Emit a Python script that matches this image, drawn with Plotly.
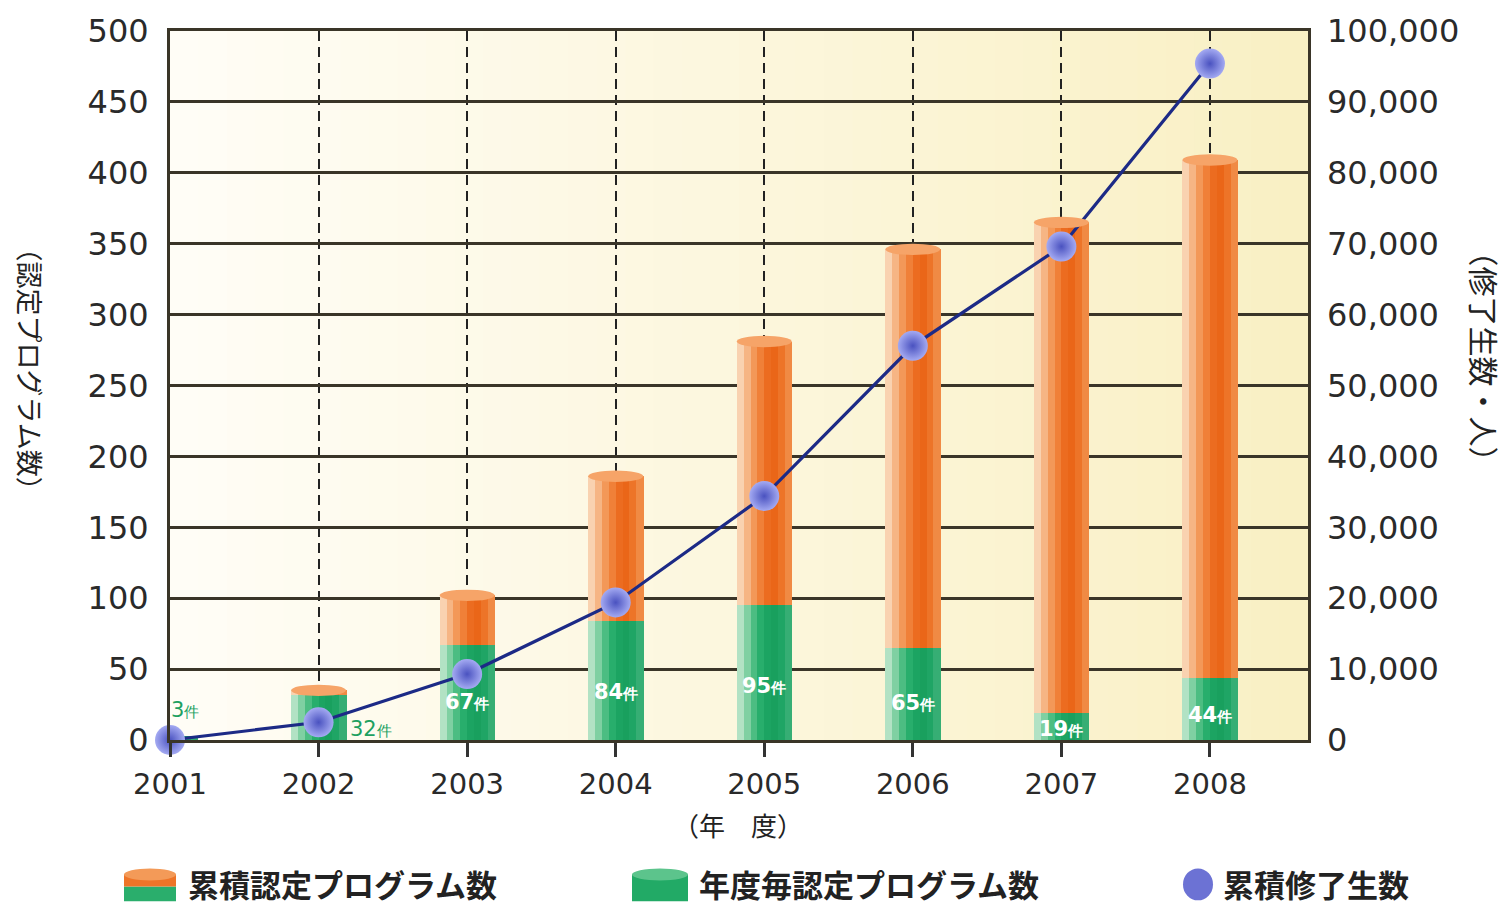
import plotly.graph_objects as go

# 年度別データ
years = [2001, 2002, 2003, 2004, 2005, 2006, 2007, 2008]
new_programs = [3, 32, 67, 84, 95, 65, 19, 44]            # 年度毎認定プログラム数
cum_programs = [3, 35, 102, 186, 281, 346, 365, 409]      # 累積認定プログラム数
cum_graduates = [0, 2500, 9300, 19400, 34400, 55600, 69600, 95400]  # 累積修了生数

series_names = ["累積認定プログラム数", "年度毎認定プログラム数", "累積修了生数"]

JP = "Noto Sans CJK JP"
NUM = "DejaVu Sans"

W, H = 1506, 905
ML, MR, MT, MB = 170, 198, 28, 165
PW, PH = W - ML - MR, H - MT - MB

# cylinder-like shading profiles (left -> right)
orange_shades = ["#f9d2b0", "#f6b584", "#f39858", "#f08038", "#ec6c20", "#ea6618", "#ed7428", "#f08a44"]
green_shades = ["#b2e2c4", "#7fd0a2", "#4cbd82", "#28ae6c", "#1ca462", "#19a05e", "#1fa565", "#36ae74"]
ORANGE_CAP = "#f6a468"
BLUE_LINE = "#1c2a86"

BAR_W = 0.37
N = len(orange_shades)
strip = BAR_W / N

fig = go.Figure()


def add_cylinder(values, shades, name):
    for i, c in enumerate(shades):
        fig.add_trace(go.Bar(
            x=years, y=values,
            width=strip * 1.08,
            offset=-BAR_W / 2 + i * strip,
            marker=dict(color=c, line=dict(width=0)),
            name=name,
            showlegend=False,
            hoverinfo="skip",
        ))


add_cylinder(cum_programs, orange_shades, series_names[0])
add_cylinder(new_programs, green_shades, series_names[1])

fig.add_trace(go.Scatter(
    x=years, y=cum_graduates, yaxis="y2",
    mode="lines+markers",
    name=series_names[2],
    showlegend=False,
    line=dict(color=BLUE_LINE, width=3.2),
    marker=dict(size=30, color="#a4aaf2",
                gradient=dict(type="radial", color="#4a52c0"),
                line=dict(width=0)),
    cliponaxis=False,
))

shapes = []

# background gradient of the plotting area
n_bg = 40
c0 = (255, 253, 246)
c1 = (249, 240, 196)
for k in range(n_bg):
    t = k / (n_bg - 1)
    col = tuple(round(c0[j] + (c1[j] - c0[j]) * t) for j in range(3))
    shapes.append(dict(type="rect", xref="x domain", yref="y domain",
                       x0=k / n_bg, x1=(k + 1) / n_bg + 0.002, y0=0, y1=1,
                       fillcolor="rgb(%d,%d,%d)" % col, line=dict(width=0),
                       layer="below"))

# elliptical caps on the cumulative cylinders
for yr, v in zip(years[1:], cum_programs[1:]):
    shapes.append(dict(type="circle", xref="x", yref="y",
                       x0=yr - BAR_W / 2, x1=yr + BAR_W / 2, y0=v - 4, y1=v + 4,
                       fillcolor=ORANGE_CAP, line=dict(width=0), layer="above"))


def px_x(p):
    return (p - ML) / PW


def px_y(p):
    return (H - MB - p) / PH


# legend drawn in paper space
shapes += [
    # cumulative: orange over green cylinder
    dict(type="rect", xref="paper", yref="paper", x0=px_x(124), x1=px_x(176),
         y0=px_y(887), y1=px_y(902), fillcolor="#2aae6c", line=dict(width=0)),
    dict(type="rect", xref="paper", yref="paper", x0=px_x(124), x1=px_x(176),
         y0=px_y(887), y1=px_y(875), fillcolor="#ee7428", line=dict(width=0)),
    dict(type="circle", xref="paper", yref="paper", x0=px_x(124), x1=px_x(176),
         y0=px_y(881), y1=px_y(869), fillcolor="#f39a58", line=dict(width=0)),
    # yearly: green cylinder
    dict(type="rect", xref="paper", yref="paper", x0=px_x(632), x1=px_x(688),
         y0=px_y(902), y1=px_y(875), fillcolor="#22aa66", line=dict(width=0)),
    dict(type="circle", xref="paper", yref="paper", x0=px_x(632), x1=px_x(688),
         y0=px_y(881), y1=px_y(869), fillcolor="#5cc48c", line=dict(width=0)),
    # graduates: blue dot
    dict(type="circle", xref="paper", yref="paper", x0=px_x(1183), x1=px_x(1213),
         y0=px_y(901), y1=px_y(869), fillcolor="#6c72d4", line=dict(width=0)),
]

# value labels on the yearly bars
annotations = []
for yr, v in zip(years, new_programs):
    txt = "%d<span style='font-size:15px'>件</span>" % v
    if yr == 2001:
        annotations.append(dict(x=yr + 0.1, y=21, text=txt, showarrow=False,
                                font=dict(family=NUM, size=21, color="#20a060"),
                                xanchor="center", yanchor="middle"))
    elif yr == 2002:
        annotations.append(dict(x=yr + 0.35, y=8, text=txt, showarrow=False,
                                font=dict(family=NUM, size=21, color="#20a060"),
                                xanchor="center", yanchor="middle"))
    else:
        annotations.append(dict(x=yr, y=v * 0.4, text="<b>%s</b>" % txt, showarrow=False,
                                font=dict(family=NUM, size=21, color="white"),
                                xanchor="center", yanchor="middle"))

annotations += [
    dict(xref="paper", yref="paper", x=px_x(30), y=px_y(367), text="（認定プログラム数）",
         textangle=90, showarrow=False, font=dict(family=JP, size=27, color="#222"),
         xanchor="center", yanchor="middle"),
    dict(xref="paper", yref="paper", x=px_x(1485), y=px_y(355), text="（修了生数・人）",
         textangle=90, showarrow=False, font=dict(family=JP, size=30, color="#222"),
         xanchor="center", yanchor="middle"),
    dict(xref="paper", yref="paper", x=px_x(738), y=px_y(825), text="（年　度）",
         showarrow=False, font=dict(family=JP, size=26, color="#222"),
         xanchor="center", yanchor="middle"),
]

for name, x_left in zip(series_names, [186, 697, 1221]):
    annotations.append(dict(xref="paper", yref="paper", x=px_x(x_left), y=px_y(884),
                            text="<b>%s</b>" % name, showarrow=False,
                            font=dict(family=JP, size=31, color="#222"),
                            xanchor="left", yanchor="middle"))

GRID = "#3a3528"
TICK_FONT = dict(family=NUM, size=32, color="#2a2a2a")

fig.update_layout(
    width=W, height=H,
    margin=dict(l=ML, r=MR, t=MT, b=MB),
    paper_bgcolor="white",
    plot_bgcolor="#fdfaea",
    barmode="overlay",
    bargap=0,
    shapes=shapes,
    annotations=annotations,
    showlegend=False,
    xaxis=dict(
        range=[2001, 2008.66], tickvals=years, ticktext=[str(y) for y in years],
        showgrid=True, gridcolor="#222", gridwidth=2, griddash="10px,6px",
        showline=True, linecolor=GRID, linewidth=3, mirror=True,
        ticks="outside", ticklen=14, tickwidth=3, tickcolor="#333",
        tickfont=dict(family=NUM, size=29, color="#2a2a2a"), ticklabelstandoff=2,
        zeroline=False,
    ),
    yaxis=dict(
        range=[0, 500], dtick=50,
        showgrid=True, gridcolor=GRID, gridwidth=3,
        showline=True, linecolor=GRID, linewidth=3, mirror=True,
        ticks="", tickfont=TICK_FONT, ticklabelstandoff=12,
        zeroline=False,
    ),
    yaxis2=dict(
        range=[0, 100000], dtick=10000, tickformat=",",
        overlaying="y", side="right", showgrid=False, zeroline=False,
        ticks="", tickfont=TICK_FONT, ticklabelstandoff=18,
        showline=False,
    ),
)

fig.write_html("out.html")
